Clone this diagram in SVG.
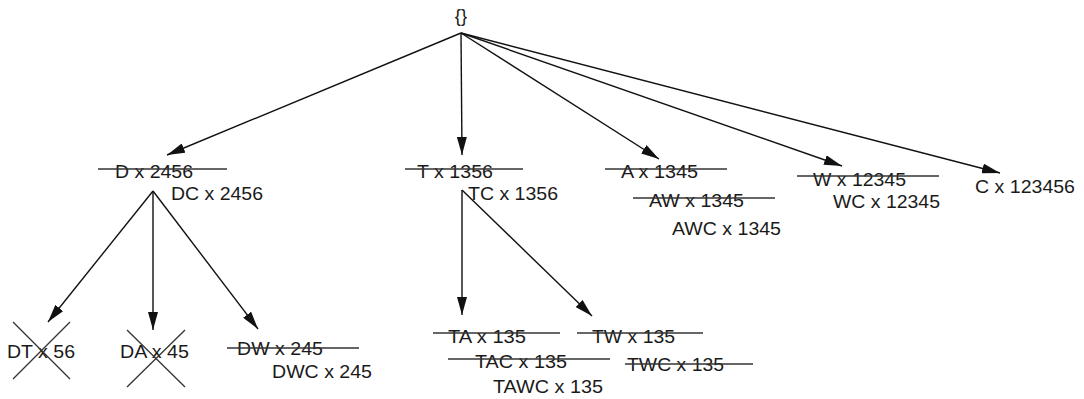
<svg xmlns="http://www.w3.org/2000/svg" width="1084" height="399" viewBox="0 0 1084 399">
  <style>
    .lbl { font-family: "Liberation Sans", Arial, sans-serif; font-size: 18.5px; fill: #1a1a1a; }
    .edge { stroke: #111; stroke-width: 1.4; fill: none; marker-end: url(#arrow); }
    .strike { stroke: #333; stroke-width: 1.3; }
    .cross { stroke: #333; stroke-width: 1.3; }
  </style>
  <defs>
    <marker id="arrow" markerUnits="userSpaceOnUse" markerWidth="18" markerHeight="10" refX="18" refY="5" orient="auto">
      <path d="M0,0 L18,5 L0,10 z" fill="#111"/>
    </marker>
  </defs>
  <rect width="1084" height="399" fill="#fff"/>

  <g id="connectors">
    <line class="edge" x1="461" y1="33" x2="167" y2="155"/>
    <line class="edge" x1="461" y1="33" x2="462" y2="155"/>
    <line class="edge" x1="461" y1="33" x2="659" y2="159"/>
    <line class="edge" x1="461" y1="33" x2="842" y2="166"/>
    <line class="edge" x1="461" y1="33" x2="1000" y2="173"/>
    <line class="edge" x1="153" y1="191" x2="48" y2="322"/>
    <line class="edge" x1="153" y1="191" x2="153" y2="330"/>
    <line class="edge" x1="153" y1="191" x2="258" y2="329"/>
    <line class="edge" x1="462" y1="190" x2="462" y2="315"/>
    <line class="edge" x1="462" y1="190" x2="592" y2="316"/>
  </g>

  <g id="root">
    <text class="lbl" x="461" y="22" text-anchor="middle">{}</text>
  </g>

  <g id="node-D">
    <text class="lbl" x="115" y="178" textLength="78" lengthAdjust="spacingAndGlyphs">D x 2456</text>
    <line class="strike" x1="98" y1="169" x2="227" y2="169"/>
    <text class="lbl" x="171" y="200" textLength="92" lengthAdjust="spacingAndGlyphs">DC x 2456</text>
  </g>

  <g id="node-T">
    <text class="lbl" x="417" y="178" textLength="76" lengthAdjust="spacingAndGlyphs">T x 1356</text>
    <line class="strike" x1="405" y1="169" x2="523" y2="169"/>
    <text class="lbl" x="468" y="200" textLength="90" lengthAdjust="spacingAndGlyphs">TC x 1356</text>
  </g>

  <g id="node-A">
    <text class="lbl" x="621" y="178" textLength="77" lengthAdjust="spacingAndGlyphs">A x 1345</text>
    <line class="strike" x1="605" y1="169" x2="727" y2="169"/>
    <text class="lbl" x="649" y="207" textLength="95" lengthAdjust="spacingAndGlyphs">AW x 1345</text>
    <line class="strike" x1="633" y1="198" x2="775" y2="198"/>
    <text class="lbl" x="672" y="235" textLength="109" lengthAdjust="spacingAndGlyphs">AWC x 1345</text>
  </g>

  <g id="node-W">
    <text class="lbl" x="813" y="186" textLength="93" lengthAdjust="spacingAndGlyphs">W x 12345</text>
    <line class="strike" x1="797" y1="176" x2="939" y2="176"/>
    <text class="lbl" x="833" y="208" textLength="107" lengthAdjust="spacingAndGlyphs">WC x 12345</text>
  </g>

  <g id="node-C">
    <text class="lbl" x="975" y="193" textLength="100" lengthAdjust="spacingAndGlyphs">C x 123456</text>
  </g>

  <g id="node-DT">
    <text class="lbl" x="7" y="358" textLength="68" lengthAdjust="spacingAndGlyphs">DT x 56</text>
    <line class="cross" x1="13" y1="322" x2="70" y2="379"/>
    <line class="cross" x1="70" y1="322" x2="13" y2="379"/>
  </g>

  <g id="node-DA">
    <text class="lbl" x="120" y="358" textLength="69" lengthAdjust="spacingAndGlyphs">DA x 45</text>
    <line class="cross" x1="127" y1="330" x2="185" y2="387"/>
    <line class="cross" x1="185" y1="330" x2="127" y2="387"/>
  </g>

  <g id="node-DW">
    <text class="lbl" x="237" y="355" textLength="86" lengthAdjust="spacingAndGlyphs">DW x 245</text>
    <line class="strike" x1="227" y1="348" x2="359" y2="348"/>
    <text class="lbl" x="272" y="378" textLength="100" lengthAdjust="spacingAndGlyphs">DWC x 245</text>
  </g>

  <g id="node-TA">
    <text class="lbl" x="448" y="343" textLength="78" lengthAdjust="spacingAndGlyphs">TA x 135</text>
    <line class="strike" x1="433" y1="333" x2="560" y2="333"/>
    <text class="lbl" x="475" y="368" textLength="92" lengthAdjust="spacingAndGlyphs">TAC x 135</text>
    <line class="strike" x1="448" y1="359" x2="610" y2="359"/>
    <text class="lbl" x="493" y="393" textLength="110" lengthAdjust="spacingAndGlyphs">TAWC x 135</text>
  </g>

  <g id="node-TW">
    <text class="lbl" x="592" y="343" textLength="83" lengthAdjust="spacingAndGlyphs">TW x 135</text>
    <line class="strike" x1="577" y1="333" x2="703" y2="333"/>
    <text class="lbl" x="627" y="371" textLength="97" lengthAdjust="spacingAndGlyphs">TWC x 135</text>
    <line class="strike" x1="625" y1="364" x2="753" y2="364"/>
  </g>
</svg>
